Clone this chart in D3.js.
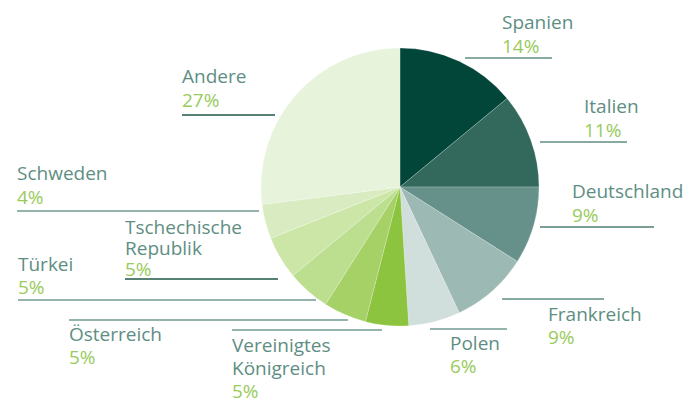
<!DOCTYPE html>
<html>
<head>
<meta charset="utf-8">
<script src="https://cdn.jsdelivr.net/npm/d3@7"></script>
<style>
  body { margin: 0; background: #fff; }
  svg { display: block; }
  text { font-family: "Open Sans", "Noto Sans", sans-serif; font-weight: 400; }
</style>
</head>
<body>
<script>
// data, clockwise from 12 o'clock
var countries = ["Spanien", "Italien", "Deutschland", "Frankreich", "Polen",
                 "Vereinigtes Königreich", "Österreich", "Türkei",
                 "Tschechische Republik", "Schweden", "Andere"];
var shares = [14, 11, 9, 9, 6, 5, 5, 5, 5, 4, 27];
var labelLines = [["Spanien"], ["Italien"], ["Deutschland"], ["Frankreich"], ["Polen"],
                  ["Vereinigtes", "Königreich"], ["Österreich"], ["Türkei"],
                  ["Tschechische", "Republik"], ["Schweden"], ["Andere"]];
var sliceColors = ["#02463a", "#33695d", "#66918a", "#9db9b3", "#d0dedc",
                   "#8cc43f", "#a6d166", "#bcdf8f", "#cce6a8", "#d9ecc1", "#e7f3da"];

// label placement: text x, first baseline, line gap, rule y, rule x1, rule x2
var labelPos = [
  [502, 29, 24, 58, 465, 552],
  [584, 113, 24, 142, 540, 627],
  [572, 198, 24, 227, 540, 654],
  [548, 321, 23, 299, 502, 604],
  [450, 350, 23, 329, 430, 507],
  [232, 352, 23, 330, 232, 382],
  [69, 341, 23, 320, 69, 348],
  [18, 271, 23, 300, 18, 316],
  [125, 234, 21, 279, 125, 278],
  [17, 180, 24, 211, 17, 259],
  [182, 83, 24, 115, 182, 275]
];
var ruleColors = ["#5f8f84", "#5f8f84", "#4f7f74", "#5f8f84", "#6f9a90", "#6f9a90",
                  "#6f9a90", "#6f9a90", "#1f5747", "#6f9a90", "#1f5747"];

var width = 688, height = 402,
    cx = 400, cy = 187, radius = 139;

var svg = d3.select("body").append("svg")
    .attr("width", width)
    .attr("height", height);

var pie = d3.pie().sort(null).value(function(d) { return d; });
var arc = d3.arc().innerRadius(0).outerRadius(radius);

svg.append("g")
    .attr("transform", "translate(" + cx + "," + cy + ")")
  .selectAll("path")
    .data(pie(shares))
  .enter().append("path")
    .attr("d", arc)
    .attr("fill", function(d, i) { return sliceColors[i]; })
    .attr("stroke", "rgba(255,255,255,0.35)")
    .attr("stroke-width", 0.6);

var labels = svg.append("g").selectAll("g")
    .data(countries)
  .enter().append("g");

labels.append("line")
    .attr("x1", function(d, i) { return labelPos[i][4]; })
    .attr("x2", function(d, i) { return labelPos[i][5]; })
    .attr("y1", function(d, i) { return labelPos[i][3]; })
    .attr("y2", function(d, i) { return labelPos[i][3]; })
    .attr("stroke", function(d, i) { return ruleColors[i]; })
    .attr("stroke-width", 1.3);

labels.each(function(d, i) {
  var g = d3.select(this), p = labelPos[i], lines = labelLines[i];
  var t = g.append("text")
      .attr("x", p[0])
      .attr("y", p[1])
      .attr("font-size", 19);
  lines.forEach(function(s, j) {
    t.append("tspan").attr("x", p[0]).attr("dy", j ? p[2] : 0)
      .attr("fill", "#5e8e83").text(s);
  });
  t.append("tspan").attr("x", p[0]).attr("dy", p[2])
    .attr("fill", "#98cb5c").text(shares[i] + "%");
});
</script>
</body>
</html>
